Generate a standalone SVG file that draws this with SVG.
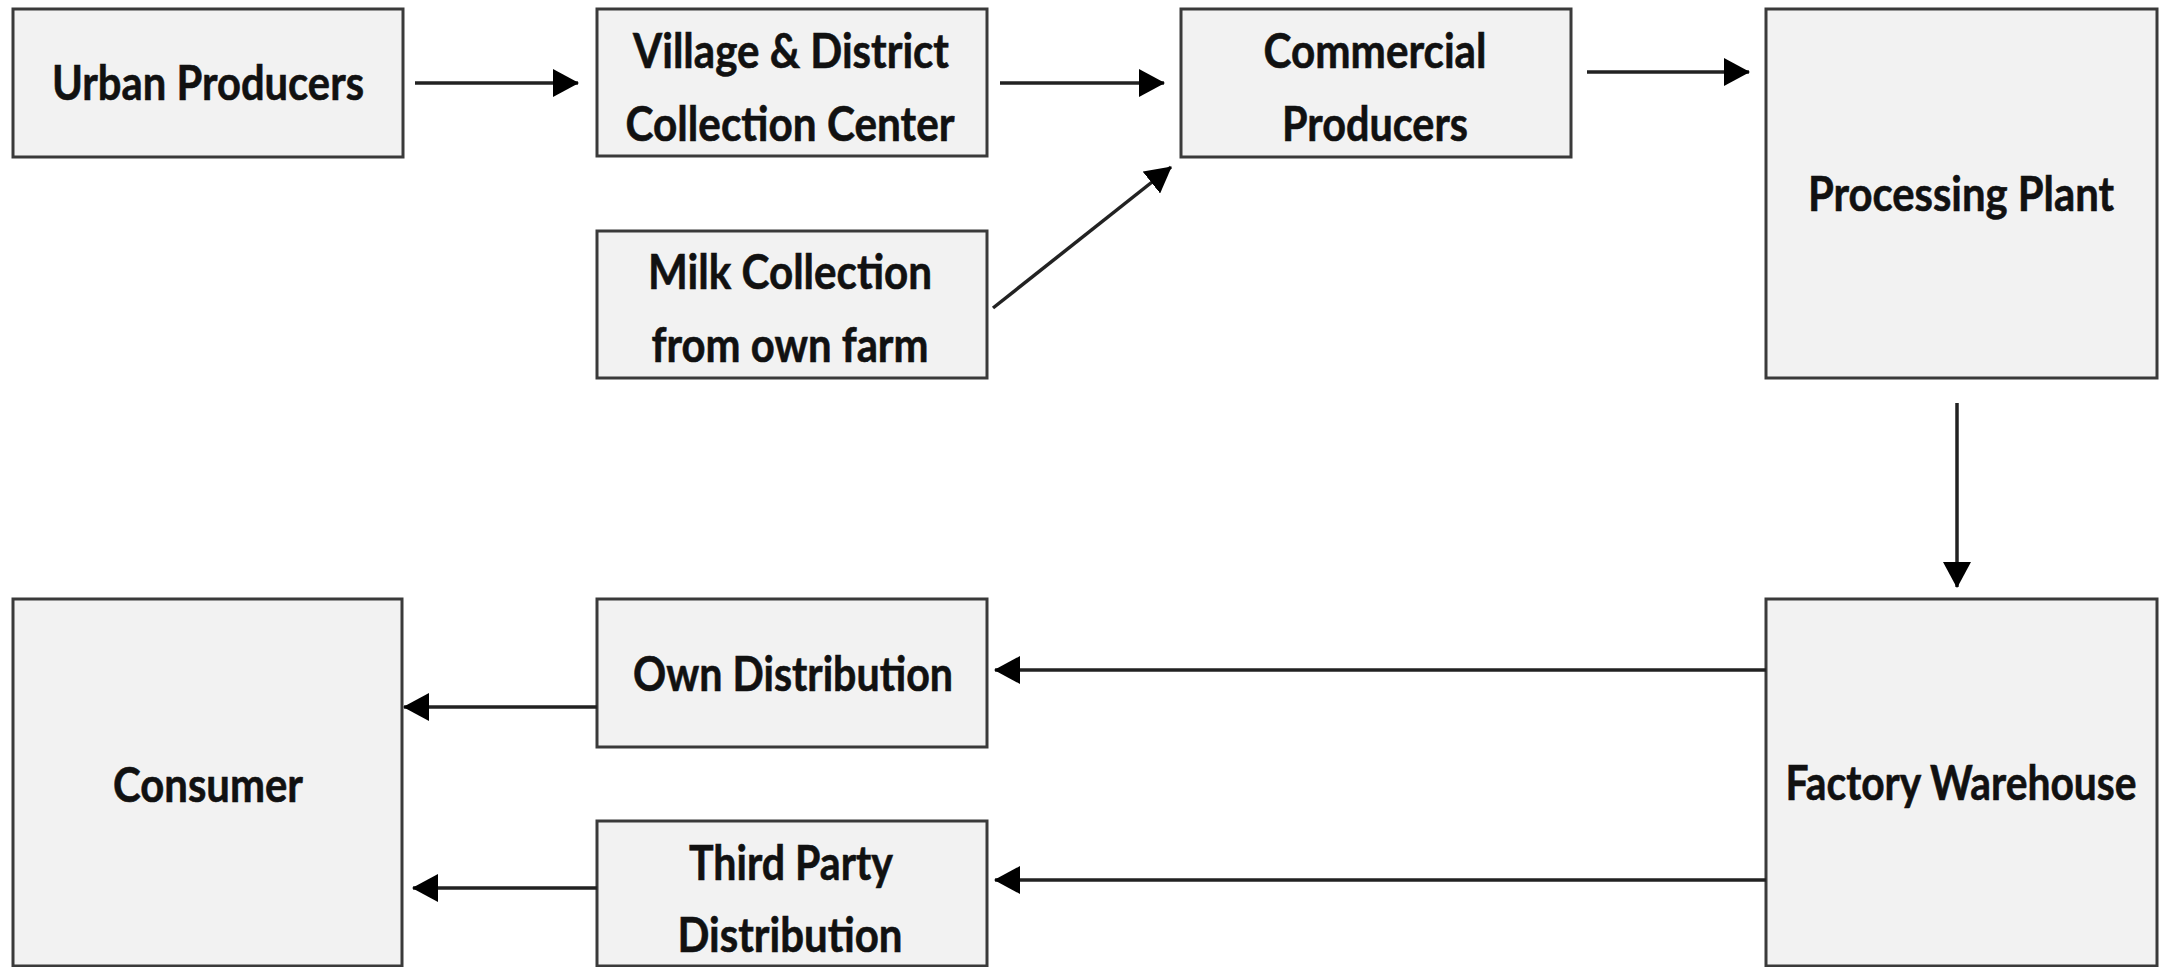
<svg xmlns="http://www.w3.org/2000/svg" width="2162" height="967" viewBox="0 0 2162 967">
<style>
.box{fill:#f2f2f2;stroke:#3a3a3a;stroke-width:3}
.lbl{font-family:Lato,"Open Sans","Liberation Sans",sans-serif;font-weight:700;font-size:48px;fill:#111;text-anchor:middle;stroke:#111;stroke-width:0.6}
.conn{stroke:#222;stroke-width:3.5;fill:none;marker-end:url(#ah)}
</style>
<defs>
<marker id="ah" markerUnits="userSpaceOnUse" viewBox="0 0 26 28" refX="25" refY="14" markerWidth="26" markerHeight="28" orient="auto">
<path d="M0,0 L26,14 L0,28 z" fill="#000"/>
</marker>
</defs>
<rect width="2162" height="967" fill="#fff"/>
<g id="urban-producers"><rect class="box" x="13" y="9" width="390" height="148"/><text class="lbl" x="208" y="100" textLength="312" lengthAdjust="spacingAndGlyphs">Urban Producers</text></g>
<g id="village-district"><rect class="box" x="597" y="9" width="390" height="147"/><text class="lbl" x="791" y="68" textLength="316" lengthAdjust="spacingAndGlyphs">Village &amp; District</text><text class="lbl" x="790" y="141" textLength="329" lengthAdjust="spacingAndGlyphs">Collection Center</text></g>
<g id="commercial-producers"><rect class="box" x="1181" y="9" width="390" height="148"/><text class="lbl" x="1375" y="68" textLength="223" lengthAdjust="spacingAndGlyphs">Commercial</text><text class="lbl" x="1375" y="141" textLength="186" lengthAdjust="spacingAndGlyphs">Producers</text></g>
<g id="processing-plant"><rect class="box" x="1766" y="9" width="391" height="369"/><text class="lbl" x="1961" y="211" textLength="306" lengthAdjust="spacingAndGlyphs">Processing Plant</text></g>
<g id="milk-collection"><rect class="box" x="597" y="231" width="390" height="147"/><text class="lbl" x="790" y="289" textLength="284" lengthAdjust="spacingAndGlyphs">Milk Collection</text><text class="lbl" x="790" y="362" textLength="277" lengthAdjust="spacingAndGlyphs">from own farm</text></g>
<g id="own-distribution"><rect class="box" x="597" y="599" width="390" height="148"/><text class="lbl" x="793" y="691" textLength="320" lengthAdjust="spacingAndGlyphs">Own Distribution</text></g>
<g id="third-party"><rect class="box" x="597" y="821" width="390" height="145"/><text class="lbl" x="791" y="880" textLength="204" lengthAdjust="spacingAndGlyphs">Third Party</text><text class="lbl" x="790" y="952" textLength="225" lengthAdjust="spacingAndGlyphs">Distribution</text></g>
<g id="consumer"><rect class="box" x="13" y="599" width="389" height="367"/><text class="lbl" x="208" y="802" textLength="190" lengthAdjust="spacingAndGlyphs">Consumer</text></g>
<g id="factory-warehouse"><rect class="box" x="1766" y="599" width="391" height="367"/><text class="lbl" transform="translate(1961,800) scale(0.85,1)" x="0" y="0">Factory Warehouse</text></g>
<g id="connectors">
<line class="conn" x1="415" y1="83" x2="578" y2="83"/>
<line class="conn" x1="1000" y1="83" x2="1164" y2="83"/>
<line class="conn" x1="1587" y1="72" x2="1749" y2="72"/>
<line class="conn" x1="993" y1="308" x2="1171" y2="167"/>
<line class="conn" x1="1957" y1="403" x2="1957" y2="587"/>
<line class="conn" x1="1766" y1="670" x2="995" y2="670"/>
<line class="conn" x1="1766" y1="880" x2="995" y2="880"/>
<line class="conn" x1="597" y1="707" x2="404" y2="707"/>
<line class="conn" x1="597" y1="888" x2="413" y2="888"/>
</g>
</svg>
